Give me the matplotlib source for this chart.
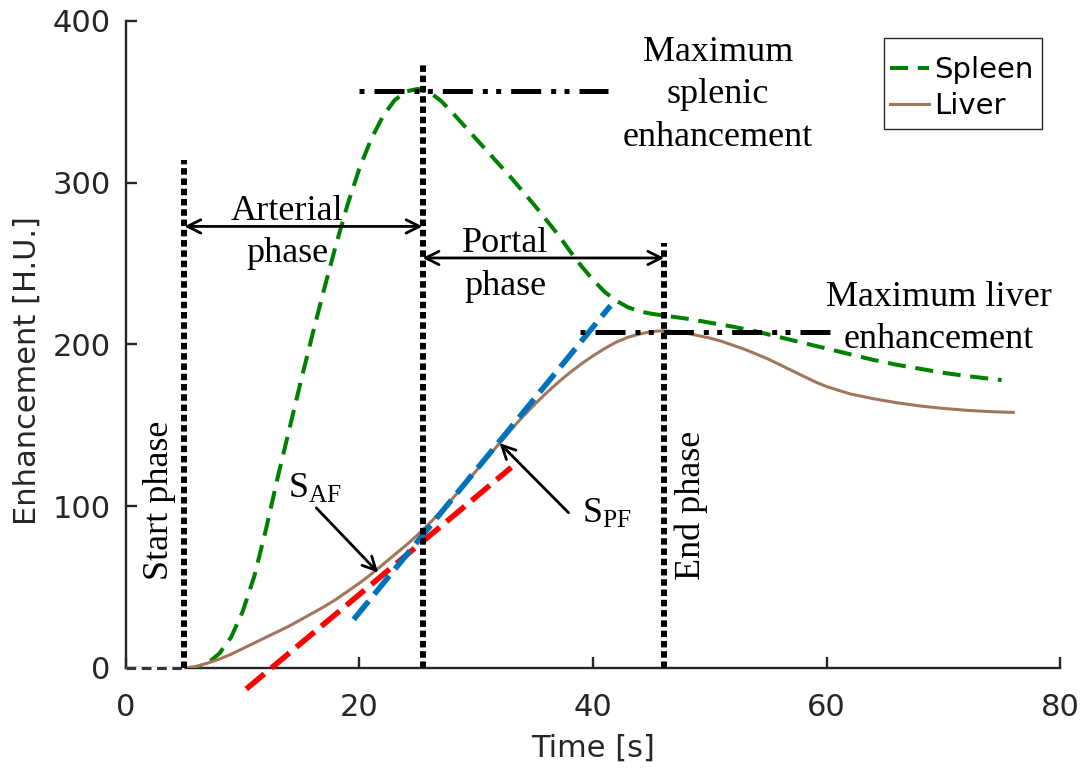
import matplotlib
matplotlib.use("Agg")
import matplotlib.pyplot as plt
from matplotlib.patches import Rectangle

plt.rcParams['lines.scale_dashes'] = False
plt.rcParams['mathtext.fontset'] = 'custom'
plt.rcParams['mathtext.rm'] = 'Liberation Serif'
plt.rcParams['mathtext.it'] = 'Liberation Serif:italic'
plt.rcParams['font.family'] = ['DejaVu Sans']

# Time-enhancement curves [s, H.U.]
spleen_t = [5, 6, 7, 8, 9, 10, 11, 12, 13, 14, 15, 16, 17, 18, 19, 20, 21, 22,
            23, 24, 25, 26, 27, 28, 29, 30, 31, 32, 33, 34, 35, 36, 37, 38, 39,
            40, 41, 42, 43, 44, 45, 46, 48, 50, 52, 54, 56, 58, 60, 62, 64, 66,
            68, 70, 72, 75]
spleen_v = [0, 0, 3, 9, 19, 35, 57, 86, 118, 148, 178, 207, 235, 262, 287, 309,
            327, 341, 351, 356.5, 358, 356, 350.5, 343, 335, 327, 319, 311, 303,
            294.5, 286, 277, 268, 258, 248.5, 240, 232.5, 227, 223, 220.5, 219,
            218, 216, 213.5, 211, 208, 204.5, 201, 197.5, 194, 190.5, 187.5, 185,
            182.5, 180.5, 178]

liver_t = [5, 6, 7, 8, 9, 10, 11, 12, 13, 14, 15, 16, 17, 18, 19, 20, 21, 22, 23,
           24, 25, 26, 27, 28, 29, 30, 31, 32, 33, 34, 35, 36, 37, 38, 39, 40, 41,
           42, 43, 44, 45, 46, 47, 48, 49, 50, 51, 52, 53, 54, 55, 56, 57, 58, 59,
           60, 62, 64, 66, 68, 70, 72, 74, 76]
liver_v = [0, 1, 3, 5.5, 8.5, 12, 15.5, 19, 22.5, 26, 30, 34, 38, 42.5, 47.5, 52.5,
           58, 64, 70, 76, 82.5, 89.5, 97, 105, 113.5, 122, 130.5, 139, 147.5,
           155.5, 163, 170, 176.5, 182.5, 188, 193, 197.5, 201.5, 204.5, 206.5,
           208, 208.5, 208, 207, 205.5, 204, 202, 199.5, 197, 194, 191, 187.5,
           184, 180.5, 177, 174, 169.5, 166.5, 164, 162, 160.5, 159.3, 158.5, 158]

# Fitted slopes: arterial (S_AF) and portal (S_PF)
saf_t = [10.3, 33.0]
saf_v = [-13.0, 124.0]
spf_t = [19.5, 41.5]
spf_v = [30.0, 224.0]

# Phase boundaries and peak levels
t_start, t_portal, t_end = 5.0, 25.4, 46.1
bound_tops = [314, 373, 263]
spleen_peak, spleen_peak_span = 357, (20.0, 41.3)
liver_peak, liver_peak_span = 208, (38.9, 60.5)
arterial_arrow_y, portal_arrow_y = 273, 253.5

GREEN = '#008000'
BROWN = '#A2765A'
BLUE = '#0072BD'
RED = '#FF0000'
AXC = '#262626'
SERIF = 'Liberation Serif'

fig = plt.figure(figsize=(10.86, 7.72), dpi=100)
ax = fig.add_axes([0.11602, 0.13472, 0.86004, 0.83808])

# baseline before contrast arrival
ax.plot([0, t_start], [0, 0], color='white', lw=2.4, zorder=3, clip_on=False,
        solid_capstyle='butt')
ax.plot([0, t_start], [0, 0], color='#333333', lw=2.2, zorder=3.1, clip_on=False,
        linestyle=(0, (7, 4)))

spleen_line, = ax.plot(spleen_t, spleen_v, color=GREEN, lw=2.9,
                       linestyle=(0, (13, 7)), label='Spleen', zorder=3)
liver_line, = ax.plot(liver_t, liver_v, color=BROWN, lw=2.2, label='Liver',
                      zorder=3)

ax.plot(saf_t, saf_v, color=RED, lw=4, linestyle=(0, (17, 6.5)), zorder=4,
        clip_on=False)
ax.plot(spf_t, spf_v, color=BLUE, lw=4, linestyle=(0, (17, 6.5)), zorder=4)

# phase boundaries
for t, top in zip([t_start, t_portal, t_end], bound_tops):
    ax.plot([t, t], [0, top], color='black', lw=4.3, linestyle=(0, (4.7, 2.7)),
            zorder=5, solid_capstyle='butt')

# peak levels
dashdotdot = (38.4, (21.6, 7.2, 3.6, 6.0, 3.6, 7.2))
ax.plot(spleen_peak_span, [spleen_peak, spleen_peak], color='black', lw=3.6,
        linestyle=dashdotdot, zorder=5)
ax.plot(liver_peak_span, [liver_peak, liver_peak], color='black', lw=3.6,
        linestyle=dashdotdot, zorder=5)

# phase duration arrows
arr = dict(arrowstyle='<->', color='black', lw=2.0, mutation_scale=24,
           shrinkA=0, shrinkB=0)
ax.annotate('', xy=(t_start, arterial_arrow_y), xytext=(t_portal, arterial_arrow_y),
            arrowprops=arr, zorder=6)
ax.annotate('', xy=(t_portal, portal_arrow_y), xytext=(t_end, portal_arrow_y),
            arrowprops=arr, zorder=6)

# slope pointers
ptr = dict(arrowstyle='->', color='black', lw=2.0, mutation_scale=24,
           shrinkA=0, shrinkB=0)
ax.annotate('', xy=(21.6, 59), xytext=(16.3, 99), arrowprops=ptr, zorder=6)
ax.annotate('', xy=(32.0, 139), xytext=(37.9, 96), arrowprops=ptr, zorder=6)

tfs = 26
ls = 1.38
ax.text(13.8, 292.5, 'Arterial\nphase', fontsize=tfs, family=SERIF,
        ha='center', va='top', linespacing=ls, zorder=7)
ax.text(32.5, 272.6, 'Portal\nphase', fontsize=tfs, family=SERIF,
        ha='center', va='top', linespacing=ls, zorder=7)
ax.text(50.7, 391, 'Maximum\nsplenic\nenhancement', fontsize=tfs, family=SERIF,
        ha='center', va='top', linespacing=ls, zorder=7)
ax.text(69.6, 239.5, 'Maximum liver\nenhancement', fontsize=tfs, family=SERIF,
        ha='center', va='top', linespacing=ls, zorder=7)
ax.text(2.9, 54.4, 'Start phase', fontsize=tfs, family=SERIF, rotation=90,
        ha='center', va='bottom', zorder=7)
ax.text(48.4, 54.4, 'End phase', fontsize=tfs, family=SERIF, rotation=90,
        ha='center', va='bottom', zorder=7)
ax.text(13.9, 105, r'$\mathrm{S}_{\mathrm{AF}}$', fontsize=tfs, ha='left',
        va='baseline', zorder=7)
ax.text(39.1, 89.6, r'$\mathrm{S}_{\mathrm{PF}}$', fontsize=tfs, ha='left',
        va='baseline', zorder=7)

ax.set_xlim(0, 80)
ax.set_ylim(0, 400)
ax.set_xticks([0, 20, 40, 60, 80])
ax.set_yticks([0, 100, 200, 300, 400])
for side in ('top', 'right'):
    ax.spines[side].set_visible(False)
for side in ('left', 'bottom'):
    ax.spines[side].set_linewidth(1.7)
    ax.spines[side].set_color(AXC)
ax.tick_params(direction='in', length=8, width=1.7, colors=AXC, labelsize=22)
ax.tick_params(axis='x', pad=18)
ax.tick_params(axis='y', pad=11)

ax.set_xlabel('Time [s]', fontsize=22, color=AXC)
ax.set_ylabel('Enhancement [H.U.]', fontsize=22, color=AXC)
ax.xaxis.set_label_coords(0.5, -0.101)
ax.yaxis.set_label_coords(-0.09, 0.459)

# legend entries, with a square frame around them
leg = ax.legend(handles=[spleen_line, liver_line], loc='upper left',
                bbox_to_anchor=(0.818, 0.946), borderaxespad=0, borderpad=0,
                fontsize=21, handlelength=1.35, handletextpad=0.15,
                labelspacing=0.29, frameon=False)
leg.set_zorder(8)
ax.add_patch(Rectangle((0.8116, 0.8331), 0.1692, 0.1406, transform=ax.transAxes,
                       facecolor='white', edgecolor=AXC, lw=1.0, zorder=7.5,
                       clip_on=False))

fig.savefig('out.png', dpi=100)
